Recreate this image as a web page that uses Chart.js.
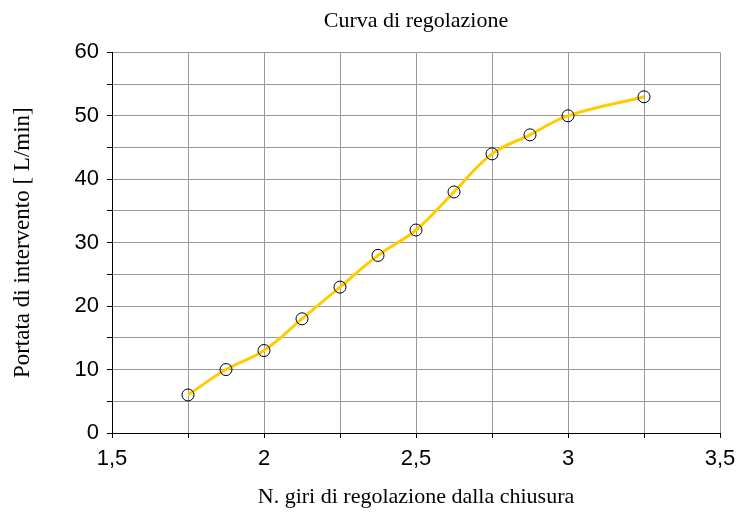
<!DOCTYPE html>
<html>
<head>
<meta charset="utf-8">
<title>Curva di regolazione</title>
<script src="https://cdn.jsdelivr.net/npm/chart.js@4/dist/chart.umd.min.js"></script>
<style>
  html, body { margin: 0; padding: 0; background: #fff; }
  #wrap { width: 747px; height: 517px; }
</style>
</head>
<body>
<div id="wrap"><canvas id="canvas-curve" width="747" height="517"></canvas></div>
<script>
// giri di regolazione dalla chiusura
const turns = [1.75, 1.875, 2, 2.125, 2.25, 2.375, 2.5, 2.625, 2.75, 2.875, 3, 3.25];
// portata di intervento [L/min]
const flowRate = [6, 10, 13, 18, 23, 28, 32, 38, 44, 47, 50, 53];

const xTickLabels = ["1,5", "2", "2,5", "3", "3,5"];
const yTickLabels = ["0", "10", "20", "30", "40", "50", "60"];

const serif = "'Liberation Serif', 'Times New Roman', serif";
const sans = "'Liberation Sans', Arial, sans-serif";

const points = turns.map((t, i) => ({ x: t, y: flowRate[i] }));

const ctx = document.getElementById("canvas-curve");

new Chart(ctx, {
  type: "scatter",
  data: {
    datasets: [
      {
        label: "Curva di regolazione",
        data: points,
        showLine: true,
        borderColor: "#FFCC00",
        borderWidth: 3,
        tension: 0.4,
        pointRadius: 6,
        pointHoverRadius: 6,
        pointBorderColor: "#000",
        pointBorderWidth: 1,
        pointBackgroundColor: "rgba(0,0,0,0)",
      },
    ],
  },
  options: {
    responsive: false,
    animation: false,
    layout: { padding: { left: 0, right: 27, top: 0, bottom: 0 } },
    plugins: {
      legend: { display: false },
      tooltip: { enabled: false },
      title: {
        display: true,
        fullSize: false,
        text: "Curva di regolazione",
        color: "#000",
        font: { family: serif, size: 22, weight: "normal" },
        padding: { top: 8, bottom: 18 },
      },
    },
    scales: {
      x: {
        type: "linear",
        min: 1.5,
        max: 3.5,
        afterFit: (scale) => { scale.height = 84; },
        ticks: {
          stepSize: 0.25,
          autoSkip: false,
          maxRotation: 0,
          padding: 8,
          color: "#000",
          font: { family: sans, size: 22 },
          callback: (v) => {
            const idx = Math.round((v - 1.5) / 0.5);
            return Math.abs(v - (1.5 + idx * 0.5)) < 1e-6 ? xTickLabels[idx] : "";
          },
        },
        grid: { color: "#999", tickColor: "#000", tickLength: 5 },
        border: { color: "#000", width: 1 },
        title: {
          display: true,
          text: "N. giri di regolazione dalla chiusura",
          color: "#000",
          font: { family: serif, size: 22, weight: "normal" },
          padding: { top: 7, bottom: 7 },
        },
      },
      y: {
        type: "linear",
        min: 0,
        max: 60,
        afterFit: (scale) => { scale.width = 112; },
        ticks: {
          stepSize: 5,
          autoSkip: false,
          padding: 8,
          color: "#000",
          font: { family: sans, size: 22 },
          callback: (v) => (v % 10 === 0 ? yTickLabels[v / 10] : ""),
        },
        grid: { color: "#999", tickColor: "#000", tickLength: 5 },
        border: { color: "#000", width: 1 },
        title: {
          display: true,
          text: "Portata di intervento [ L/min]",
          color: "#000",
          font: { family: serif, size: 23, weight: "normal" },
          padding: { top: 9, bottom: 9 },
        },
      },
    },
  },
});
</script>
</body>
</html>
